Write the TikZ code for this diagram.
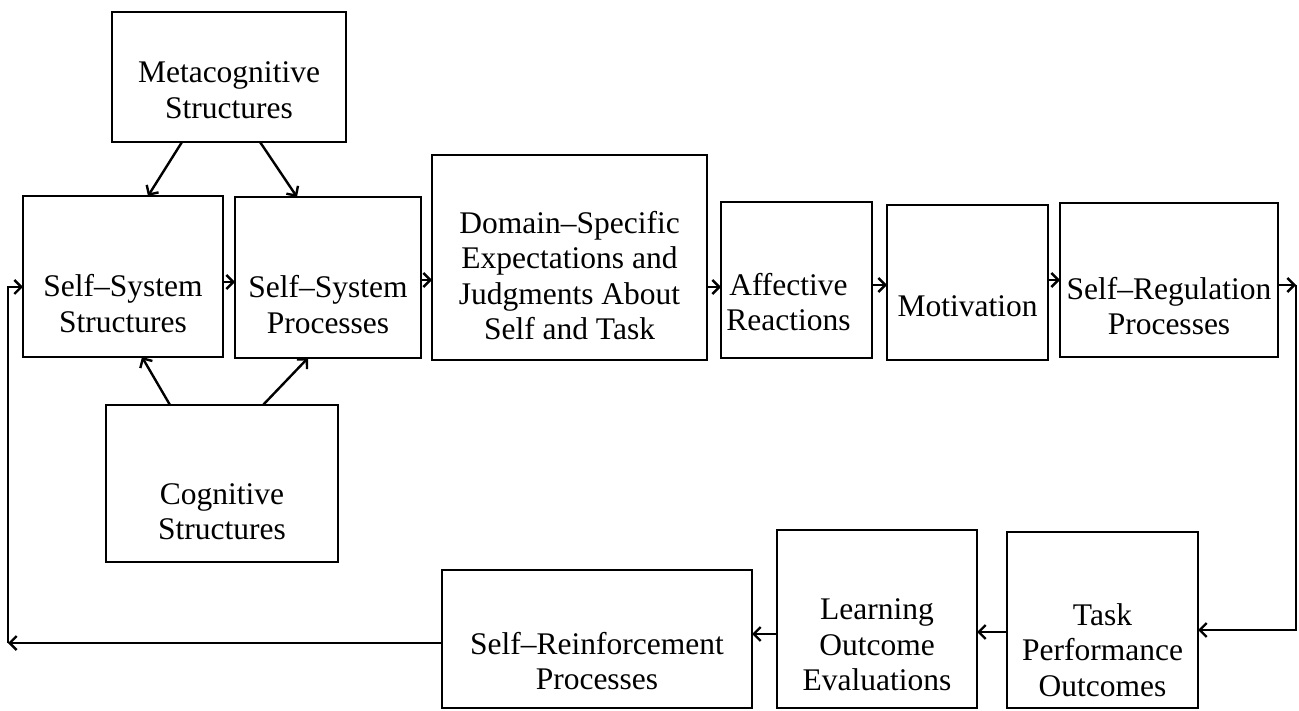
\documentclass[tikz,border=0pt]{standalone}
\usepackage{fontspec}
\setmainfont{Liberation Serif}
\usetikzlibrary{arrows.meta,calc}
\newcommand\mkbox[5]{%
  \node[box,minimum width={(#4-#2)*1pt},minimum height={(#5-#3)*1pt}] (#1) at ({(#2+#4)/2},{(#3+#5)/2}) {};}
\begin{document}
\begin{tikzpicture}[x=1pt,y=-1pt,
  box/.style={draw,line width=2.6pt,inner sep=0pt,outer sep=0pt},
  txt/.style={align=center,font=\fontsize{31.5}{35.5}\selectfont,inner sep=0pt},
  arr/.style={line width=2.4pt,-{Straight Barb[length=7pt,width=14pt]}}]
\useasboundingbox (0,0) rectangle (1299,711);
% boxes
\mkbox{meta}{112}{12}{346}{142}
\mkbox{sss}{23}{196}{223}{357}
\mkbox{ssp}{235}{197}{421}{358}
\mkbox{dom}{432}{155}{707}{360}
\mkbox{aff}{721}{202}{872}{358}
\mkbox{mot}{887}{205}{1048}{360}
\mkbox{sreg}{1060}{203}{1278}{357}
\mkbox{cog}{106}{405}{338}{562}
\mkbox{sreinf}{442}{570}{752}{708}
\mkbox{learn}{777}{530}{977}{708}
\mkbox{task}{1007}{532}{1198}{708}
% texts
\node[txt] (metat) at ($(meta.center)+(0,13)$) {Metacognitive\\Structures};
\node[txt] (ssst) at ($(sss.center)+(0,27)$) {Self–System\\Structures};
\node[txt] (sspt) at ($(ssp.center)+(0,27)$) {Self–System\\Processes};
\node[txt] (domt) at ($(dom.center)+(0,18)$) {Domain–Specific\\Expectations and\\Judgments About\\Self and Task};
\node[txt] (afft) at ($(aff.center)+(-8,22)$) {Affective\\Reactions};
\node[txt] (mott) at ($(mot.center)+(0,24)$) {Motivation};
\node[txt] (sregt) at ($(sreg.center)+(0,26)$) {Self–Regulation\\Processes};
\node[txt] (cogt) at ($(cog.center)+(0,28)$) {Cognitive\\Structures};
\node[txt] (sreinft) at ($(sreinf.center)+(0,22)$) {Self–Reinforcement\\Processes};
\node[txt] (learnt) at ($(learn.center)+(0,26)$) {Learning\\Outcome\\Evaluations};
\node[txt] (taskt) at ($(task.center)+(0,30)$) {Task\\Performance\\Outcomes};
% diagonal arrows
\draw[arr] ([xshift=70pt]meta.south west) -- ([xshift=125pt]sss.north west);
\draw[arr] ([xshift=148pt]meta.south west) -- ([xshift=62pt]ssp.north west);
\draw[arr] ([xshift=64pt]cog.north west) -- ([xshift=119pt]sss.south west);
\draw[arr] ([xshift=157pt]cog.north west) -- ([xshift=73pt]ssp.south west);
% top row
\draw[arr] (sss.east |- 0,282) -- (ssp.west |- 0,282);
\draw[arr] (ssp.east |- 0,280) -- (dom.west |- 0,280);
\draw[arr] (dom.east |- 0,287) -- (aff.west |- 0,287);
\draw[arr] (aff.east |- 0,285) -- (mot.west |- 0,285);
\draw[arr] (mot.east |- 0,280) -- (sreg.west |- 0,280);
% right loop
\coordinate (rc) at (1296,285);
\draw[arr] (sreg.east |- rc) -- (rc);
\draw[arr] (rc) |- (task.east |- 0,630);
% bottom row
\draw[arr] (task.west |- 0,632) -- (learn.east |- 0,632);
\draw[arr] (learn.west |- 0,634) -- (sreinf.east |- 0,634);
% left loop
\coordinate (lc) at (8,643);
\draw[arr] (sreinf.west |- lc) -- (lc);
\draw[arr] (lc) |- (sss.west |- 0,287);
\end{tikzpicture}
\end{document}
